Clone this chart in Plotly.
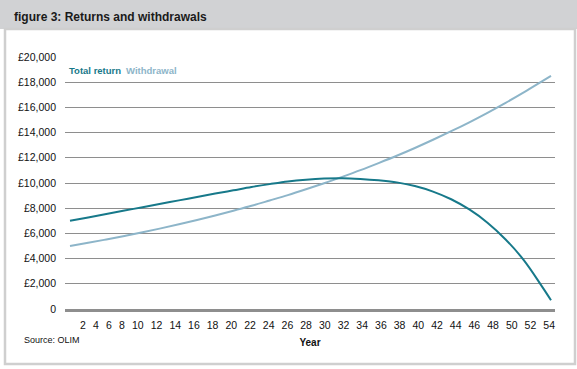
import plotly.graph_objects as go

# ---------------- data ----------------
years = [1, 3, 5, 7, 9, 11, 13, 15, 17, 19, 21, 23, 25, 27, 29, 31, 33, 35,
         37, 39, 41, 43, 45, 47, 49, 51, 53, 54]
total_return = [7000, 7270, 7540, 7810, 8080, 8350, 8620, 8890, 9160, 9420,
                9680, 9910, 10120, 10260, 10350, 10380, 10320, 10210, 10050,
                9760, 9320, 8710, 7900, 6850, 5520, 3880, 1800, 700]
withdrawal = [5000, 5250, 5520, 5800, 6090, 6400, 6720, 7060, 7420, 7800,
              8190, 8610, 9040, 9500, 9980, 10490, 11020, 11580, 12160,
              12780, 13430, 14110, 14820, 15570, 16360, 17190, 18060, 18500]

x_tick_labels = ["2", "4", "6", "8", "10", "12", "14", "16", "18", "20",
                 "22", "24", "26", "28", "30", "32", "34", "36", "38", "40",
                 "42", "44", "46", "48", "50", "52", "54"]
y_tick_vals = [0, 2000, 4000, 6000, 8000, 10000, 12000, 14000, 16000,
               18000, 20000]
y_tick_text = ["0", "£2,000", "£4,000", "£6,000", "£8,000", "£10,000",
               "£12,000", "£14,000", "£16,000", "£18,000", "£20,000"]

title_text = "figure 3: Returns and withdrawals"
source_text = "Source: OLIM"
x_title = "Year"

# ---------------- style ----------------
FONT = "Liberation Sans, Arial, sans-serif"
TEAL = "#17798a"
LIGHT = "#8db5c9"
GRID = "#8e8e8e"

W, H = 577, 369
L, R, T, B = 65, 22, 57, 60
PW, PH = W - L - R, H - T - B


def px_x(px):
    return (px - L) / PW


def px_y(py):
    return (H - B - py) / PH


# x scale: year 1 at px 70, year 54 at px 551
ppy = (551 - 70) / (54 - 1)
x_lo = 1 - (70 - L) / ppy
x_hi = 54 + (W - R - 551) / ppy

# tick labels laid out like a typeset row (label widths + gaps)
gap = 1.28
digit_px = 5.7
cursor = 0.0
tick_vals = []
for lab in x_tick_labels:
    c = cursor + len(lab) / 2
    px = 83 + digit_px * (c - 0.5)
    tick_vals.append(1 + (px - 70) / ppy)
    cursor += len(lab) + gap

fig = go.Figure()
fig.add_trace(go.Scatter(x=years, y=withdrawal, mode="lines", name="Withdrawal",
                         line=dict(color=LIGHT, width=2, shape="spline"),
                         showlegend=False, hoverinfo="skip"))
fig.add_trace(go.Scatter(x=years, y=total_return, mode="lines", name="Total return",
                         line=dict(color=TEAL, width=2, shape="spline"),
                         showlegend=False, hoverinfo="skip"))

fig.update_layout(
    width=W, height=H,
    margin=dict(l=L, r=R, t=T, b=B, pad=0),
    paper_bgcolor="white", plot_bgcolor="white",
    font=dict(family=FONT, size=11, color="#111111"),
    xaxis=dict(range=[x_lo, x_hi], tickmode="array", tickvals=tick_vals,
               ticktext=x_tick_labels, showgrid=False, zeroline=False,
               showline=True, linecolor="#8e8e8e", linewidth=3, ticks="",
               tickfont=dict(family=FONT, size=10.5, color="#111111"),
               ticklabelstandoff=4,
               title=dict(text="<b>" + x_title + "</b>", standoff=10,
                          font=dict(family=FONT, size=10, color="#111111"))),
    yaxis=dict(range=[0, 20000], tickmode="array", tickvals=y_tick_vals,
               ticktext=y_tick_text, showgrid=True, gridcolor=GRID,
               gridwidth=1.2, zeroline=False, showline=False, ticks="",
               ticklabelstandoff=8,
               tickfont=dict(family=FONT, size=10.5, color="#111111")),
)

fig.add_shape(type="rect", xref="paper", yref="paper",
              x0=px_x(0), x1=px_x(W), y0=px_y(29), y1=px_y(0),
              fillcolor="#d1d2d4", line=dict(width=0), layer="below")
fig.add_shape(type="rect", xref="paper", yref="paper",
              x0=px_x(5), x1=px_x(575), y0=px_y(364), y1=px_y(29),
              fillcolor="rgba(0,0,0,0)", line=dict(color="#cfcfcf", width=2.5),
              layer="below")

fig.add_annotation(xref="paper", yref="paper", x=px_x(12), y=px_y(17),
                   xanchor="left", yanchor="middle", showarrow=False,
                   text="<b>" + title_text + "</b>",
                   font=dict(family=FONT, size=12, color="#1a1a1a"))
fig.add_annotation(xref="paper", yref="paper", x=px_x(67), y=px_y(70),
                   xanchor="left", yanchor="middle", showarrow=False,
                   text="<b>Total return</b>",
                   font=dict(family=FONT, size=9.5, color=TEAL))
fig.add_annotation(xref="paper", yref="paper", x=px_x(124), y=px_y(70),
                   xanchor="left", yanchor="middle", showarrow=False,
                   text="<b>Withdrawal</b>",
                   font=dict(family=FONT, size=9.5, color=LIGHT))
fig.add_annotation(xref="paper", yref="paper", x=px_x(22), y=px_y(340),
                   xanchor="left", yanchor="middle", showarrow=False,
                   text=source_text,
                   font=dict(family=FONT, size=9, color="#111111"))

fig.write_html("out.html", config={"displayModeBar": False},
               post_script="document.body.style.margin='0px';")
